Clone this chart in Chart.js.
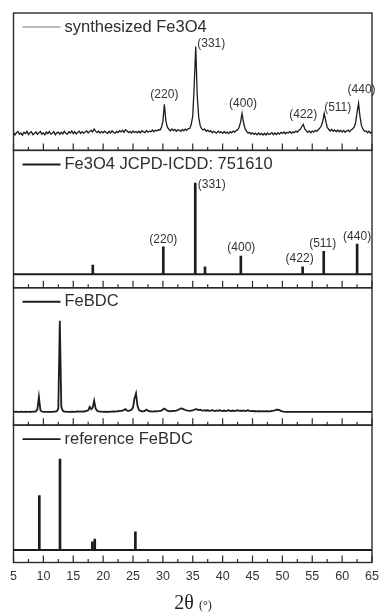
<!DOCTYPE html>
<html>
<head>
<meta charset="utf-8">
<title>XRD patterns</title>
<script src="https://cdn.jsdelivr.net/npm/chart.js@4.4.1/dist/chart.umd.min.js"></script>
<style>
  html, body { margin: 0; padding: 0; background: #fff; }
  #wrap { position: relative; width: 379px; height: 612px; }
  #xtitle {
    position: absolute; left: 0; top: 592px; width: 386px; text-align: center;
    font-family: "Liberation Serif", "DejaVu Serif", serif; font-size: 20px; line-height: 20px; color: #222;
  }
  #xtitle small { font-size: 12px; }
</style>
</head>
<body>
<div id="wrap">
  <canvas id="xrd" width="379" height="612"></canvas>
  <div id="xtitle">2θ <small>(°)</small></div>
</div>
<script>
"use strict";
// Four stacked XRD panels sharing one 2θ axis: measured Fe3O4, Fe3O4 card,
// measured FeBDC, reference FeBDC. One y scale per panel, stacked on the left.

const xMin = 5, xMax = 65, xStep = 5;

// step scans (counts per 0.25° from 5°, arbitrary units)
const scanStart = 5, scanStep = 0.25;
const fe3o4Counts = [
  13.4, 11.2, 12.9, 13.8,  11.7, 12.6, 11.0, 13.2,  12.3, 13.9, 11.5, 12.8,   // 5-7
  13.6, 11.4, 12.2, 13.5,  11.6, 12.9, 13.7, 11.8,  12.7, 11.3, 13.4, 12.1,   // 8-10
  13.8, 11.9, 12.5, 13.6,  11.4, 12.8, 13.3, 11.7,  13.2, 12.0, 13.9, 12.4,   // 11-13
  11.8, 13.5, 12.6, 14.1,  12.2, 13.7, 11.9, 13.1,  14.0, 12.3, 13.6, 12.5,   // 14-16
  13.3, 14.2, 12.7, 13.8,  14.5, 13.4, 15.6, 14.0,  12.9, 14.1, 12.6, 13.7,   // 17-19
  12.8, 14.0, 13.1, 12.4,  13.9, 12.7, 14.2, 13.0,  12.5, 13.8, 12.9, 14.3,   // 20-22
  13.4, 14.6, 13.2, 15.0,  14.2, 12.9, 13.8, 12.6,  14.1, 13.0, 13.7, 12.8,   // 23-25
  13.9, 12.7, 14.3, 13.5,  12.9, 14.4, 13.2, 14.0,  13.6, 14.8, 13.5, 14.6,   // 26-28
  14.2, 15.1, 14.7, 16.6,  21.0, 33.5, 21.5, 16.9,  15.4, 14.2, 15.6, 14.4,   // 29-31
  15.3, 13.9, 15.0, 14.6,  13.8, 15.2, 14.3, 15.5,  14.6, 15.8, 16.0, 19.0,   // 32-34
  25.0, 48.0, 75.6, 40.0,  24.0, 18.0, 15.6, 14.8,  15.6, 13.9, 14.7, 13.6,   // 35-37
  14.3, 12.8, 13.9, 13.1,  12.6, 14.0, 12.9, 13.5,  12.4, 13.7, 12.6, 13.3,   // 38-40
  12.2, 13.6, 12.8, 14.0,  13.2, 14.4, 14.9, 16.6,  20.5, 26.9, 20.1, 15.8,   // 41-43
  14.0, 12.6, 13.2, 11.9,  12.8, 11.6, 12.5, 11.3,  12.6, 11.5, 12.3, 11.1,   // 44-46
  12.4, 11.2, 12.7, 11.6,  12.0, 12.9, 11.4, 12.6,  11.5, 12.8, 11.8, 13.1,   // 47-49
  12.3, 13.4, 12.1, 13.2,  12.6, 13.7, 12.4, 13.5,  12.9, 14.0, 13.3, 14.6,   // 50-52
  15.3, 17.4, 18.9, 15.6,  14.3, 13.1, 14.2, 12.9,  14.1, 13.4, 14.6, 13.8,   // 53-55
  15.0, 16.2, 17.7, 21.0,  26.9, 21.6, 16.8, 15.4,  14.1, 15.3, 13.9, 14.9,   // 56-58
  13.6, 14.8, 13.5, 14.6,  13.3, 14.5, 13.2, 14.1,  14.7, 13.5, 14.9, 15.6,   // 59-61
  16.9, 19.9, 27.6, 34.2,  24.3, 17.8, 15.4, 13.9,  14.2, 12.8, 13.9, 12.6,   // 62-64
  13.4
];
const fe3o4PeakPos = [30.25, 35.5, 43.25, 53.5, 57.0, 62.75];
const fe3o4Hkl = ["(220)", "(331)", "(400)", "(422)", "(511)", "(440)"];

// Fe3O4 card 75-1610: positions (°) and relative intensities (%)
const jcpdsPos = [18.27, 30.07, 35.42, 37.05, 43.05, 53.39, 56.92, 62.51];
const jcpdsInt = [10, 30, 100, 8, 20, 8, 25, 33];
const jcpdsHkl = ["", "(220)", "(331)", "", "(400)", "(422)", "(511)", "(440)"];

const febdcCounts = [
  9.8, 9.7, 9.8, 9.7,   9.7, 9.8, 9.7, 9.7,   9.8, 9.7, 9.7, 9.8,         // 5-7
  9.7, 9.8, 9.8, 10.0,  11.5, 20.6, 11.0, 9.9,  9.7, 9.6, 9.7, 9.6,       // 8-10
  9.7, 9.6, 9.7, 9.8,   9.9, 10.2, 12.0, 75.9,  13.5, 10.4, 9.9, 9.8,     // 11-13
  9.7, 9.7, 9.8, 9.7,   9.8, 9.7, 9.8, 9.9,   9.8, 9.9, 10.0, 9.9,        // 14-16
  10.1, 10.3, 10.8, 13.3,  11.6, 12.8, 17.7, 12.0,  10.5, 10.0, 9.9, 9.8, // 17-19
  9.7, 9.8, 9.7, 9.8,   9.7, 9.8, 9.8, 9.9,   9.9, 10.0, 10.1, 10.3,      // 20-22
  10.4, 10.6, 11.1, 11.6,  10.6, 10.4, 10.7, 11.2,  12.8, 19.5, 23.1, 14.0, // 23-25
  11.0, 10.3, 10.1, 10.0,  10.4, 11.3, 10.5, 10.1,  10.0, 9.9, 10.0, 10.1, // 26-28
  10.0, 10.2, 10.3, 10.6,  11.4, 12.1, 11.2, 10.5,  10.2, 10.1, 10.2, 10.3, // 29-31
  10.4, 10.6, 11.0, 11.6,  12.1, 12.0, 11.5, 11.0,  10.7, 10.5, 10.4, 10.6, // 32-34
  10.8, 11.2, 11.6, 11.4,  10.9, 11.3, 10.8, 10.6,  10.9, 10.5, 10.8, 10.4, // 35-37
  10.6, 10.9, 10.5, 10.3,  10.7, 10.4, 10.8, 10.5,  10.3, 10.6, 10.2, 10.5, // 38-40
  10.8, 10.4, 10.3, 10.6,  10.2, 10.5, 10.9, 10.4,  10.6, 10.3, 10.7, 10.2, // 41-43
  10.5, 10.8, 10.4, 10.2,  10.3, 10.1, 10.2, 10.0,  10.1, 10.2, 10.0, 10.1, // 44-46
  10.0, 10.2, 10.1, 10.0,  10.1, 10.3, 10.5, 10.8,  11.2, 11.3, 10.9, 10.4, // 47-49
  10.0, 9.8, 9.7, 9.7,   9.7, 9.7, 9.6, 9.7,   9.7, 9.6, 9.7, 9.7,        // 50-52
  9.6, 9.7, 9.7, 9.6,   9.7, 9.7, 9.6, 9.7,   9.7, 9.6, 9.7, 9.7,         // 53-55
  9.6, 9.7, 9.7, 9.6,   9.7, 9.7, 9.6, 9.7,   9.7, 9.6, 9.7, 9.7,         // 56-58
  9.6, 9.7, 9.7, 9.6,   9.7, 9.7, 9.6, 9.7,   9.7, 9.6, 9.7, 9.7,         // 59-61
  9.6, 9.7, 9.7, 9.6,   9.7, 9.7, 9.6, 9.7,   9.7, 9.6, 9.7, 9.7,         // 62-64
  9.7
];

// reference FeBDC sticks: positions (°) and relative intensities (%)
const refPos = [9.32, 12.78, 18.2, 18.6, 25.4];
const refInt = [60, 100, 9, 12, 20];

const legendLabels = ["synthesized Fe3O4", "Fe3O4 JCPD-ICDD: 751610", "FeBDC", "reference FeBDC"];

// label nudges in px from the peak tip
const hklNudge1 = [[0, -10], [15.5, -3], [1, -10], [0, -10], [13.5, -6], [3, -14]];
const hklNudge2 = [null, [0, -7], [16.5, 2], null, [0.5, -8], [-3, -8], [-1, -8], [0, -7]];

const SANS = '"Liberation Sans", Arial, sans-serif';
const INK = "#1c1c1c";

const scanPoints = (counts) => counts.map((c, i) => ({ x: scanStart + i * scanStep, y: c }));
const sticks = (pos, inten) => pos.map((p, i) => ({ x: p, y: [0, inten[i]] }));
const baseline = () => [{ x: xMin, y: 0 }, { x: xMax, y: 0 }];

const panels = [
  { axis: "y1", label: legendLabels[0], lc: "#777", lw: 1 },
  { axis: "y2", label: legendLabels[1], lc: INK, lw: 2 },
  { axis: "y3", label: legendLabels[2], lc: INK, lw: 2 },
  { axis: "y4", label: legendLabels[3], lc: INK, lw: 1.6 },
];

const panelDecor = {
  id: "panelDecor",
  afterDatasetsDraw(chart) {
    const { ctx, chartArea: a, scales } = chart;
    const sx = scales.x;
    ctx.save();
    panels.forEach((p) => {
      const ys = scales[p.axis];
      ctx.strokeStyle = "#2a2a2a";
      ctx.lineWidth = 1.4;
      ctx.strokeRect(a.left, ys.top, a.right - a.left, ys.bottom - ys.top);
      // ticks point inward from each panel's bottom edge
      ctx.lineWidth = 1.2;
      ctx.beginPath();
      sx.ticks.forEach((t, i) => {
        const px = sx.getPixelForValue(t.value);
        ctx.moveTo(px, ys.bottom); ctx.lineTo(px, ys.bottom - 7);
        if (i < sx.ticks.length - 1) {
          const mx = sx.getPixelForValue(t.value + xStep / 2);
          ctx.moveTo(mx, ys.bottom); ctx.lineTo(mx, ys.bottom - 3.5);
        }
      });
      ctx.stroke();
      // legend entry
      const ly = ys.top + 14;
      ctx.strokeStyle = p.lc; ctx.lineWidth = p.lw;
      ctx.beginPath(); ctx.moveTo(a.left + 9, ly); ctx.lineTo(a.left + 47, ly); ctx.stroke();
      ctx.fillStyle = "#2e2e2e";
      ctx.font = "16.5px " + SANS;
      ctx.textAlign = "left"; ctx.textBaseline = "middle";
      ctx.fillText(p.label, a.left + 51, ly);
    });

    ctx.font = "12px " + SANS;
    ctx.fillStyle = "#333";
    ctx.textAlign = "center"; ctx.textBaseline = "middle";
    fe3o4PeakPos.forEach((pos, i) => {
      const top = fe3o4Counts[Math.round((pos - scanStart) / scanStep)];
      const [dx, dy] = hklNudge1[i];
      ctx.fillText(fe3o4Hkl[i], sx.getPixelForValue(pos) + dx, scales.y1.getPixelForValue(top) + dy);
    });
    jcpdsPos.forEach((pos, i) => {
      if (!jcpdsHkl[i]) return;
      const [dx, dy] = hklNudge2[i];
      ctx.fillText(jcpdsHkl[i], sx.getPixelForValue(pos) + dx, scales.y2.getPixelForValue(jcpdsInt[i]) + dy);
    });
    ctx.restore();
  }
};

// hidden y scales stacked on the left; listed bottom-up so y1 lands on top
const yScale = (min, max) => ({
  type: "linear", min, max, stack: "xrd", stackWeight: 1, position: "left",
  ticks: { display: false }, grid: { display: false }, border: { display: false },
  afterFit: (s) => { s.width = 0; }
});

new Chart(document.getElementById("xrd"), {
  type: "line",
  data: {
    datasets: [
      { data: scanPoints(fe3o4Counts), yAxisID: "y1", borderColor: INK, borderWidth: 1.3, pointRadius: 0 },
      { data: baseline(), yAxisID: "y2", borderColor: INK, borderWidth: 2, pointRadius: 0 },
      { type: "bar", data: sticks(jcpdsPos, jcpdsInt), yAxisID: "y2", backgroundColor: INK, barThickness: 2, grouped: false },
      { data: scanPoints(febdcCounts), yAxisID: "y3", borderColor: INK, borderWidth: 1.8, pointRadius: 0 },
      { data: baseline(), yAxisID: "y4", borderColor: INK, borderWidth: 2, pointRadius: 0 },
      { type: "bar", data: sticks(refPos, refInt), yAxisID: "y4", backgroundColor: INK, barThickness: 2, grouped: false },
    ]
  },
  options: {
    responsive: false,
    animation: false,
    devicePixelRatio: 1,
    layout: { padding: { top: 13, left: 13.5, right: 7, bottom: 20.5 } },
    plugins: { legend: { display: false }, tooltip: { enabled: false } },
    scales: {
      x: {
        type: "linear", min: xMin, max: xMax, offset: false,
        ticks: { stepSize: xStep, color: "#333", padding: 7, maxRotation: 0, autoSkip: false, font: { family: SANS, size: 12.5 } },
        grid: { display: false, drawTicks: false }, border: { display: false },
        // end labels may hang past the frame
        afterFit: (s) => { s.paddingLeft = 0; s.paddingRight = 0; }
      },
      y4: yScale(-13.7, 137.4),
      y3: yScale(0, 100),
      y2: yScale(-14.8, 135.8),
      y1: yScale(0, 100),
    }
  },
  plugins: [panelDecor]
});
</script>
</body>
</html>
